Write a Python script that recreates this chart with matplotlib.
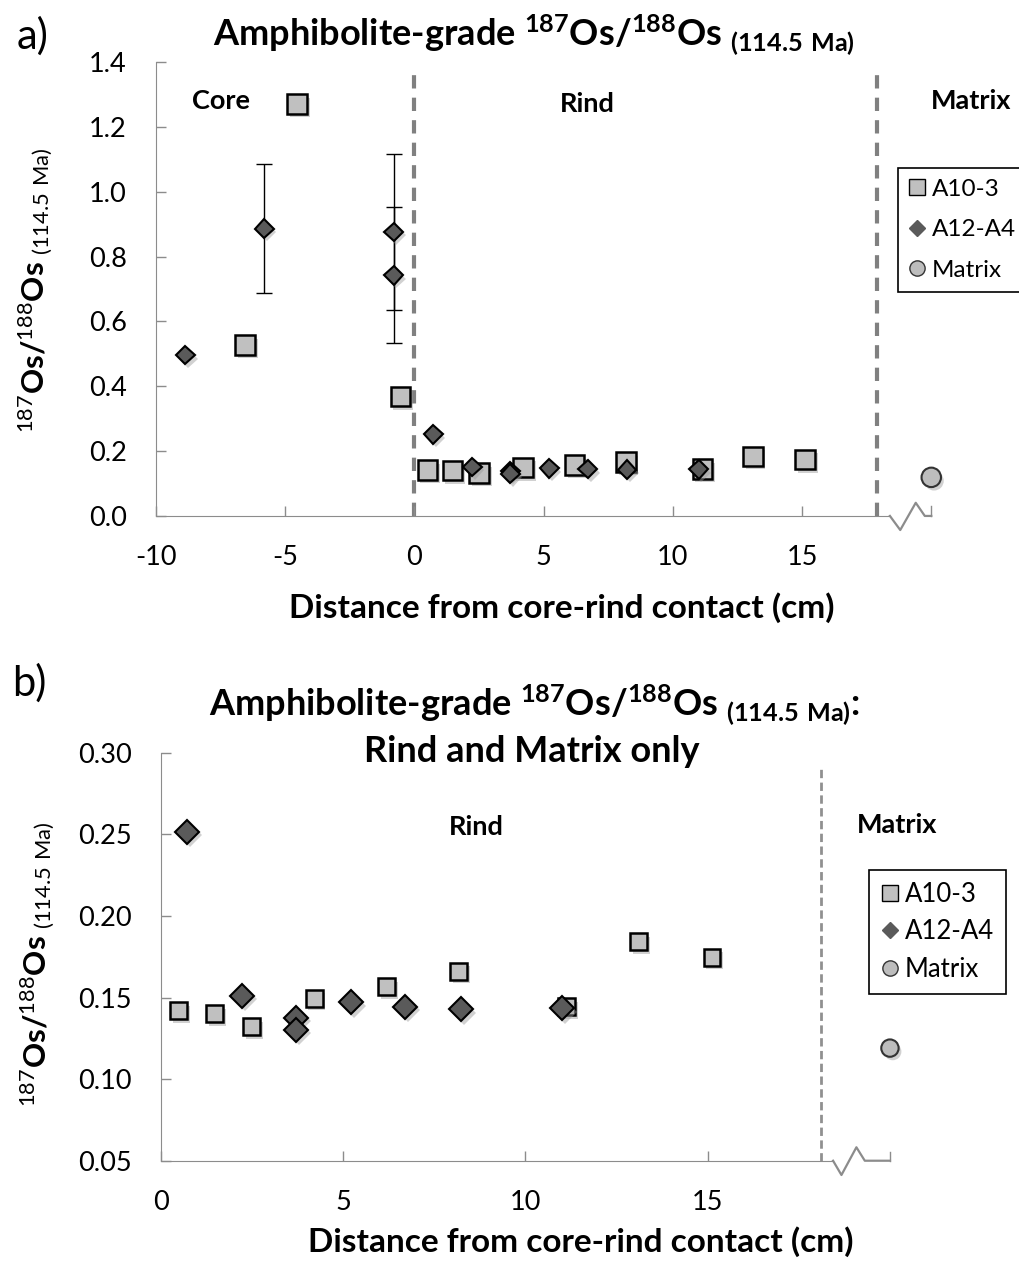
"""
Amphibolite-grade 187Os/188Os (114.5 Ma) across core, rind and matrix.
"""
import matplotlib
matplotlib.use("Agg")
import matplotlib.pyplot as plt
import matplotlib.patheffects as pe
from matplotlib.lines import Line2D

plt.rcParams["font.family"] = ["Lato", "DejaVu Sans"]
plt.rcParams["mathtext.fontset"] = "custom"
plt.rcParams["mathtext.rm"] = "Lato"
plt.rcParams["mathtext.bf"] = "Lato:bold"
plt.rcParams["mathtext.default"] = "regular"
plt.rcParams["axes.unicode_minus"] = False

# ---- data (distance in cm, ratio) ----
a10_core_x = [-6.55, -4.54, -0.54]
a10_core_y = [0.527, 1.271, 0.368]
a10_rind_x = [0.50, 1.47, 2.50, 4.21, 6.20, 8.18, 11.14, 13.10, 15.12]
a10_rind_y = [0.142, 0.140, 0.132, 0.1495, 0.1566, 0.1662, 0.1444, 0.1842, 0.1746]

a12_core_x = [-8.86, -5.81, -0.80, -0.80]
a12_core_y = [0.496, 0.886, 0.876, 0.742]
a12_core_err = [0.0, 0.198, 0.24, 0.21]
a12_rind_x = [0.73, 2.24, 3.71, 3.71, 5.22, 6.71, 8.23, 11.00]
a12_rind_y = [0.2516, 0.1511, 0.1376, 0.1301, 0.1471, 0.1444, 0.1428, 0.1434]

matrix_x = [20.0]
matrix_y = [0.119]

contact_x = 0.0
rind_edge_a = 17.9
rind_edge_b = 18.1

SQ = "#c0c0c0"
DI = "#5a5a5a"
CI = "#bdbdbd"
AX = "#8c8c8c"

shadow = [pe.SimplePatchShadow(offset=(2, -2.5), shadow_rgbFace="#9a9a9a", alpha=0.45), pe.Normal()]

fig = plt.figure(figsize=(10.2, 12.68), dpi=100)


def style_axes(ax, break_pts, yfmt, xticks, yticks):
    for s in ["top", "right"]:
        ax.spines[s].set_visible(False)
    ax.spines["left"].set_color(AX)
    ax.spines["bottom"].set_color(AX)
    ax.spines["bottom"].set_bounds(ax.get_xlim()[0], break_pts[0][0])
    ax.tick_params(direction="in", length=7, width=1, color=AX, labelsize=19.5, pad=21)
    ax.set_xticks(xticks)
    ax.set_yticks(yticks)
    ax.set_yticklabels([yfmt % v for v in yticks])
    bx = [p[0] for p in break_pts]
    by = [p[1] for p in break_pts]
    ax.plot(bx, by, color=AX, lw=1.6, transform=ax.get_xaxis_transform(), clip_on=False)
    ax.plot([bx[-1], bx[-1]], [0, 0.022], color=AX, lw=1, transform=ax.get_xaxis_transform(), clip_on=False)


def ylabel(x, y):
    fig.text(x, y, r"$^{\mathrm{187}}\mathbf{Os/}^{\mathrm{188}}\mathbf{Os}_{\mathrm{\ (114.5\ Ma)}}$",
             rotation=90, ha="center", va="center", fontsize=22.5)


def legend(ax, anchor, fs, spacing, ms):
    handles = [
        Line2D([], [], ls="none", marker="s", ms=ms, mfc=SQ, mec="black", mew=1),
        Line2D([], [], ls="none", marker="D", ms=ms * 0.72, mfc=DI, mec=DI, mew=1),
        Line2D([], [], ls="none", marker="o", ms=ms, mfc=CI, mec="#333333", mew=1),
    ]
    leg = ax.legend(handles, ["A10-3", "A12-A4", "Matrix"], loc="upper left",
                    bbox_to_anchor=anchor, bbox_transform=fig.transFigure, borderaxespad=0,
                    fontsize=fs, labelspacing=spacing, handlelength=0.7, handletextpad=0.25,
                    borderpad=0.45, fancybox=False, framealpha=1)
    leg.get_frame().set_edgecolor("black")
    leg.get_frame().set_linewidth(1.2)


# ---------------- panel a ----------------
ax1 = fig.add_axes([0.1529, 0.5931, 0.7601, 0.3580])
ax1.set_xlim(-10, 20)
ax1.set_ylim(0, 1.4)
ax1.axvline(contact_x, ymax=0.985, color="#808080", lw=3, ls=(0, (3.2, 2.2)), zorder=1)
ax1.axvline(rind_edge_a, ymax=0.985, color="#808080", lw=3, ls=(0, (3.2, 2.2)), zorder=1)

ax1.errorbar(a12_core_x, a12_core_y, yerr=a12_core_err, fmt="none", ecolor="black",
             elinewidth=1, capsize=6, capthick=1, zorder=2)
ax1.plot(a10_core_x + a10_rind_x, a10_core_y + a10_rind_y, ls="none", marker="s", ms=14,
         mfc=SQ, mec="black", mew=1.8, zorder=3, path_effects=shadow)
ax1.plot(a12_core_x + a12_rind_x, a12_core_y + a12_rind_y, ls="none", marker="D", ms=9.5,
         mfc=DI, mec="black", mew=1.5, zorder=4, path_effects=shadow)
ax1.plot(matrix_x, matrix_y, ls="none", marker="o", ms=14, mfc=CI, mec="#333333", mew=1.5,
         zorder=4, clip_on=False, path_effects=shadow)

style_axes(ax1, [(18.4, 0), (18.8, -0.031), (19.4, 0.029), (19.75, 0), (20, 0)], "%.1f",
           [-10, -5, 0, 5, 10, 15], [0, 0.2, 0.4, 0.6, 0.8, 1.0, 1.2, 1.4])

ax1.text(-7.5, 1.28, "Core", ha="center", va="center", fontsize=19.5, fontweight="bold")
ax1.text(6.7, 1.27, "Rind", ha="center", va="center", fontsize=19.5, fontweight="bold")
ax1.text(21.55, 1.28, "Matrix", ha="center", va="center", fontsize=19.5, fontweight="bold", clip_on=False)
ax1.set_xlabel("Distance from core-rind contact (cm)", fontsize=24, fontweight="bold")
ax1.xaxis.set_label_coords(0.524, -0.168)
legend(ax1, (0.8804, 0.8675), 17.5, 0.8, 11)

fig.text(0.032, 0.9715, "a)", ha="center", va="center", fontsize=30)
fig.text(0.5235, 0.9724, r"Amphibolite-grade $^{187}$Os/$^{188}$Os $_{(114.5\ Ma)}$",
         ha="center", va="center", fontsize=26, fontweight="bold")
ylabel(0.035, 1 - 290 / 1268)

# ---------------- panel b ----------------
ax2 = fig.add_axes([0.1575, 0.0846, 0.7150, 0.3218])
ax2.set_xlim(0, 20)
ax2.set_ylim(0.05, 0.30)
ax2.axvline(rind_edge_b, ymax=0.96, color="#909090", lw=2, ls=(0, (3, 1.6)), zorder=1)

ax2.plot(a10_rind_x, a10_rind_y, ls="none", marker="s", ms=12.2, mfc=SQ, mec="black",
         mew=1.8, zorder=3, path_effects=shadow)
ax2.plot(a12_rind_x, a12_rind_y, ls="none", marker="D", ms=12.2, mfc=DI, mec="black",
         mew=1.5, zorder=4, path_effects=shadow)
ax2.plot(matrix_x, matrix_y, ls="none", marker="o", ms=12.5, mfc=CI, mec="#333333", mew=1.5,
         zorder=4, clip_on=False, path_effects=shadow)

style_axes(ax2, [(18.44, 0), (18.67, -0.035), (19.08, 0.033), (19.31, 0), (20, 0)], "%.2f",
           [0, 5, 10, 15], [0.05, 0.10, 0.15, 0.20, 0.25, 0.30])

ax2.text(8.65, 0.2545, "Rind", ha="center", va="center", fontsize=19.5, fontweight="bold")
ax2.text(20.2, 0.2558, "Matrix", ha="center", va="center", fontsize=19.5, fontweight="bold", clip_on=False)
ax2.set_xlabel("Distance from core-rind contact (cm)", fontsize=24, fontweight="bold")
ax2.xaxis.set_label_coords(0.576, -0.160)
legend(ax2, (0.852, 0.3139), 18.5, 0.5, 11)

fig.text(0.029, 1 - 683 / 1268, "b)", ha="center", va="center", fontsize=30)
fig.text(0.5245, 1 - 705 / 1268, r"Amphibolite-grade $^{187}$Os/$^{188}$Os $_{(114.5\ Ma)}$:",
         ha="center", va="center", fontsize=26, fontweight="bold")
fig.text(0.5215, 1 - 752 / 1268, "Rind and Matrix only", ha="center", va="center",
         fontsize=26, fontweight="bold")
ylabel(0.037, 1 - 964 / 1268)

fig.savefig("out.png", dpi=100)
print("Saved -> out.png")
